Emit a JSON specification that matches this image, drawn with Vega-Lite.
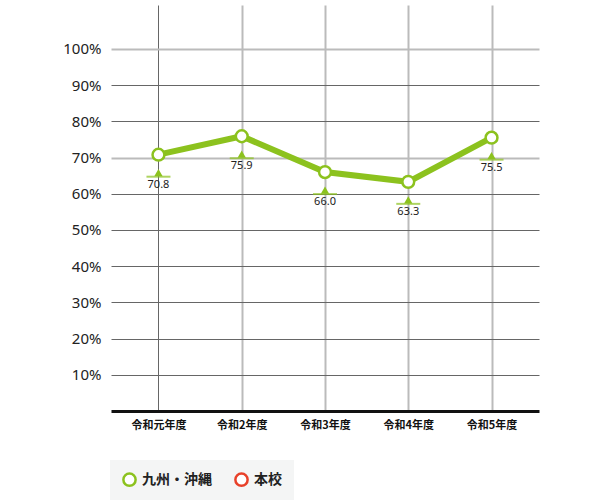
{
  "$schema": "https://vega.github.io/schema/vega-lite/v6.json",
  "width": 428,
  "height": 406,
  "autosize": "none",
  "padding": {"left": 111, "top": 5, "right": 61, "bottom": 89},
  "background": "white",
  "config": {
    "view": {"stroke": null},
    "font": "Noto Sans CJK JP"
  },
  "data": {
    "values": [
      {"year": "令和元年度", "value": 70.8, "series": "九州・沖縄"},
      {"year": "令和2年度", "value": 75.9, "series": "九州・沖縄"},
      {"year": "令和3年度", "value": 66.0, "series": "九州・沖縄"},
      {"year": "令和4年度", "value": 63.3, "series": "九州・沖縄"},
      {"year": "令和5年度", "value": 75.5, "series": "九州・沖縄"}
    ]
  },
  "encoding": {
    "x": {
      "field": "year",
      "type": "nominal",
      "sort": null,
      "scale": {"type": "point", "padding": 0.57},
      "axis": {
        "title": null,
        "labelAngle": 0,
        "labelFontSize": 11,
        "labelFontWeight": "bold",
        "labelColor": "#111",
        "labelPadding": 8,
        "ticks": false,
        "domainColor": "#111",
        "domainWidth": 3,
        "grid": true,
        "gridColor": {"condition": {"test": "datum.value == '令和元年度'", "value": "#666"}, "value": "#bbb"},
        "gridWidth": {"condition": {"test": "datum.value == '令和元年度'", "value": 1}, "value": 2}
      }
    },
    "y": {
      "field": "value",
      "type": "quantitative",
      "scale": {"domain": [0, 112.15], "nice": false, "zero": true},
      "axis": {
        "title": null,
        "values": [10, 20, 30, 40, 50, 60, 70, 80, 90, 100],
        "labelExpr": "datum.value + '%'",
        "labelFontSize": 15,
        "labelColor": "#222",
        "labelFont": "Noto Sans",
        "labelPadding": 10,
        "ticks": false,
        "domain": false,
        "grid": true,
        "gridColor": {"condition": {"test": "datum.value == 100 || datum.value == 70", "value": "#bbb"}, "value": "#666"},
        "gridWidth": {"condition": {"test": "datum.value == 100 || datum.value == 70", "value": 2}, "value": 1}
      }
    }
  },
  "layer": [
    {
      "mark": {"type": "line", "color": "#8cc21e", "strokeWidth": 6}
    },
    {
      "mark": {"type": "tick", "orient": "horizontal", "color": "#8cc21e", "size": 24, "thickness": 2, "yOffset": 22}
    },
    {
      "mark": {"type": "point", "shape": "triangle-up", "filled": true, "color": "#8cc21e", "size": 70, "opacity": 1, "yOffset": 18}
    },
    {
      "mark": {"type": "text", "fontSize": 11, "color": "#222", "font": "Noto Sans", "yOffset": 30},
      "encoding": {"text": {"field": "value", "type": "quantitative", "format": ".1f"}}
    },
    {
      "mark": {"type": "point", "shape": "circle", "filled": true, "fill": "white", "size": 140, "strokeWidth": 2.5, "opacity": 1},
      "encoding": {
        "stroke": {
          "field": "series",
          "type": "nominal",
          "scale": {"domain": ["九州・沖縄", "本校"], "range": ["#8cc21e", "#e8412a"]},
          "legend": {
            "title": null,
            "orient": "none",
            "legendX": -1,
            "legendY": 455,
            "direction": "horizontal",
            "fillColor": "#f4f5f5",
            "padding": 12,
            "symbolType": "circle",
            "symbolSize": 150,
            "symbolStrokeWidth": 2.5,
            "symbolFillColor": "white",
            "labelFontSize": 14,
            "labelFontWeight": "bold",
            "labelColor": "#222",
            "labelOffset": 5,
            "columnPadding": 18
          }
        }
      }
    }
  ]
}
